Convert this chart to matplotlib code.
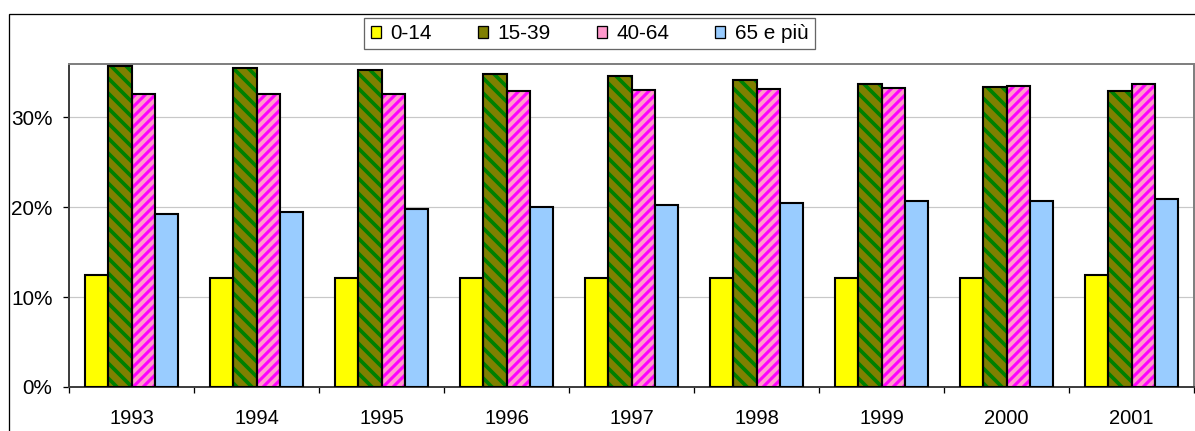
import matplotlib
matplotlib.use("Agg")
import matplotlib.pyplot as plt
import numpy as np
from matplotlib.patches import Patch, Rectangle
from matplotlib.ticker import FuncFormatter, FixedLocator

years = ["1993", "1994", "1995", "1996", "1997", "1998", "1999", "2000", "2001"]
series_names = ["0-14", "15-39", "40-64", "65 e più"]
v_0_14 = [12.4, 12.1, 12.1, 12.1, 12.1, 12.1, 12.1, 12.1, 12.4]
v_15_39 = [35.7, 35.4, 35.2, 34.8, 34.6, 34.1, 33.7, 33.3, 32.9]
v_40_64 = [32.6, 32.6, 32.6, 32.9, 33.0, 33.1, 33.2, 33.5, 33.7]
v_65 = [19.2, 19.4, 19.8, 20.05, 20.2, 20.5, 20.7, 20.7, 20.9]
y_ticks = [0, 10, 20, 30]

DPI = 90


def P(px):
    """pixels -> points at the figure dpi"""
    return px * 72.0 / DPI


plt.rcParams['font.family'] = ['Liberation Sans', 'DejaVu Sans']
plt.rcParams['hatch.linewidth'] = P(3.7)

W, H = 1195, 431
fig = plt.figure(figsize=(W / DPI, H / DPI), dpi=DPI)
ax = fig.add_axes([69 / W, 1 - 387 / H, (1194 - 69) / W, (387 - 64) / H])

x = np.arange(len(years))
bw = 0.186
face = ["#FFFF00", "#808000", "#FF99CC", "#99CCFF"]
hatch_col = [None, "#008000", "#FF00FF", None]
hatches = [None, "\\\\", "///", None]
hlw = [None, P(3.7), P(3.1), None]
data = [v_0_14, v_15_39, v_40_64, v_65]

for i, vals in enumerate(data):
    pos = x + (i - 1.5) * bw
    if hatches[i]:
        with plt.rc_context({'hatch.linewidth': hlw[i]}):
            bars = ax.bar(pos, vals, width=bw, color=face[i], edgecolor=hatch_col[i],
                          linewidth=0, hatch=hatches[i], zorder=2)
            for b in bars:
                if hasattr(b, "set_hatch_linewidth"):
                    b.set_hatch_linewidth(hlw[i])
        ax.bar(pos, vals, width=bw, fill=False, edgecolor="black", linewidth=P(2.1), zorder=3)
    else:
        ax.bar(pos, vals, width=bw, color=face[i], edgecolor="black", linewidth=P(2.1), zorder=3)

ax.set_xlim(-0.5, len(years) - 0.5)
ax.set_ylim(0, 35.9)
ax.set_yticks(y_ticks)
ax.yaxis.set_major_formatter(FuncFormatter(lambda v, p: f"{v:.0f}%"))
ax.yaxis.grid(True, color="#C8C8C8", linewidth=P(1.2), zorder=0)
ax.set_axisbelow(True)

ax.set_xticks(x)
ax.set_xticklabels(years)
ax.xaxis.set_minor_locator(FixedLocator(np.arange(-0.5, len(years), 1.0)))
ax.tick_params(axis='x', which='major', length=0, pad=P(22), labelsize=P(20.1))
ax.tick_params(axis='x', which='minor', length=P(5.5), width=P(1.3), color="black", direction='out')
ax.tick_params(axis='y', length=P(5.5), width=P(1.3), color="black", pad=P(11),
               labelsize=P(20.8), direction='out')

ax.spines['top'].set_color("#808080")
ax.spines['right'].set_color("#808080")
ax.spines['left'].set_color("#404040")
ax.spines['bottom'].set_color("#404040")
for s in ax.spines.values():
    s.set_linewidth(P(2))

handles = [Patch(facecolor=face[i], edgecolor="black", linewidth=P(1.3)) for i in range(4)]
leg = fig.legend(handles, series_names, ncol=4, loc='upper center',
                 bbox_to_anchor=(589.5 / W, 1 - 18 / H), frameon=True, fancybox=False,
                 fontsize=P(20.8), handlelength=0.48, handleheight=0.48, handletextpad=0.45,
                 columnspacing=2.23, borderpad=0.3, borderaxespad=0)
leg.get_frame().set_edgecolor("#404040")
leg.get_frame().set_linewidth(P(1.3))

fig.add_artist(Rectangle((9 / W, -0.1), 1.2, 1 - 14 / H + 0.1, transform=fig.transFigure,
                         fill=False, edgecolor="black", linewidth=P(1.3)))

fig.savefig("out.png", dpi=DPI)
